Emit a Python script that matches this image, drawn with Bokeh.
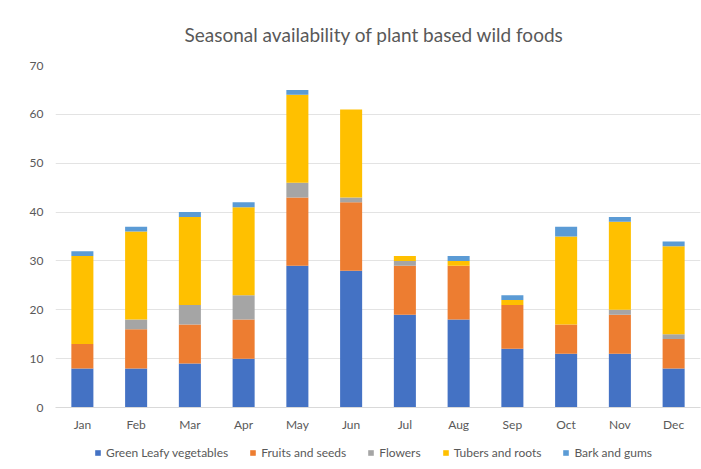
from bokeh.plotting import figure
from bokeh.models import Legend, LegendItem, FactorRange, SingleIntervalTicker, Range1d
from bokeh.layouts import column
from bokeh.embed import file_html
from bokeh.resources import INLINE

months = ["Jan", "Feb", "Mar", "Apr", "May", "Jun", "Jul", "Aug", "Sep", "Oct", "Nov", "Dec"]
green_leafy = [8, 8, 9, 10, 29, 28, 19, 18, 12, 11, 11, 8]
fruits_seeds = [5, 8, 8, 8, 14, 14, 10, 11, 9, 6, 8, 6]
flowers = [0, 2, 4, 5, 3, 1, 1, 0, 0, 0, 1, 1]
tubers_roots = [18, 18, 18, 18, 18, 18, 1, 1, 1, 18, 18, 18]
bark_gums = [1, 1, 1, 1, 1, 0, 0, 1, 1, 2, 1, 1]

series = ["Green Leafy vegetables", "Fruits and seeds", "Flowers", "Tubers and roots", "Bark and gums"]
colors = ["#4472C4", "#ED7D31", "#A5A5A5", "#FFC000", "#5B9BD5"]

data = {"months": months}
keys = ["g", "f", "fl", "t", "b"]
for k, vals in zip(keys, [green_leafy, fruits_seeds, flowers, tubers_roots, bark_gums]):
    data[k] = vals

FONT = "Lato"
TXT = "#595959"

p = figure(x_range=FactorRange(*months, range_padding=0), y_range=Range1d(0, 70),
           width=701, height=440, output_backend="svg", toolbar_location=None,
           min_border_left=55, min_border_right=1, min_border_top=65, min_border_bottom=33)

rs = p.vbar_stack(keys, x="months", width=0.41, color=colors, source=data, line_width=0)

p.title.text = "Seasonal availability of plant based wild foods"
p.title.align = "left"
p.title.text_font = FONT
p.title.text_font_size = "19px"
p.title.text_font_style = "normal"
p.title.text_color = TXT
p.title.offset = 129
p.title.standoff = 40

p.yaxis.ticker = SingleIntervalTicker(interval=10)
p.yaxis.axis_line_color = None
p.yaxis.major_tick_line_color = None
p.yaxis.minor_tick_line_color = None
p.yaxis.major_label_text_font = FONT
p.yaxis.major_label_text_font_size = "12px"
p.yaxis.major_label_text_color = TXT
p.yaxis.major_label_standoff = 6

p.xaxis.axis_line_color = "#D9D9D9"
p.xaxis.major_tick_line_color = None
p.xaxis.minor_tick_line_color = None
p.xaxis.major_label_text_font = FONT
p.xaxis.major_label_text_font_size = "12px"
p.xaxis.major_label_text_color = TXT
p.xaxis.major_label_standoff = 3

p.xgrid.grid_line_color = None
p.ygrid.grid_line_color = "#E3E3E3"
p.outline_line_color = None

# Legend strip below the chart
lg = figure(width=701, height=29, output_backend="svg", toolbar_location=None,
            x_axis_type=None, y_axis_type=None, x_range=Range1d(0, 1), y_range=Range1d(0, 1),
            min_border_left=0, min_border_right=0, min_border_top=0, min_border_bottom=0)
lg.outline_line_color = None
lg.grid.grid_line_color = None
items = []
for s, c in zip(series, colors):
    r = lg.vbar(x=[-5], top=[-5], width=0.1, color=c, line_width=0)
    items.append(LegendItem(label=s, renderers=[r]))

legend = Legend(items=items, orientation="horizontal",
                location=(39, 9), label_text_font=FONT, label_text_font_size="12px",
                label_text_color=TXT, glyph_width=7, glyph_height=7, spacing=21,
                label_standoff=5, padding=0, margin=0, border_line_color=None,
                background_fill_alpha=0, label_height=10, label_width=10)
lg.add_layout(legend, "center")

layout = column(p, lg, spacing=0)
open("out.html", "w").write(file_html(layout, INLINE))
